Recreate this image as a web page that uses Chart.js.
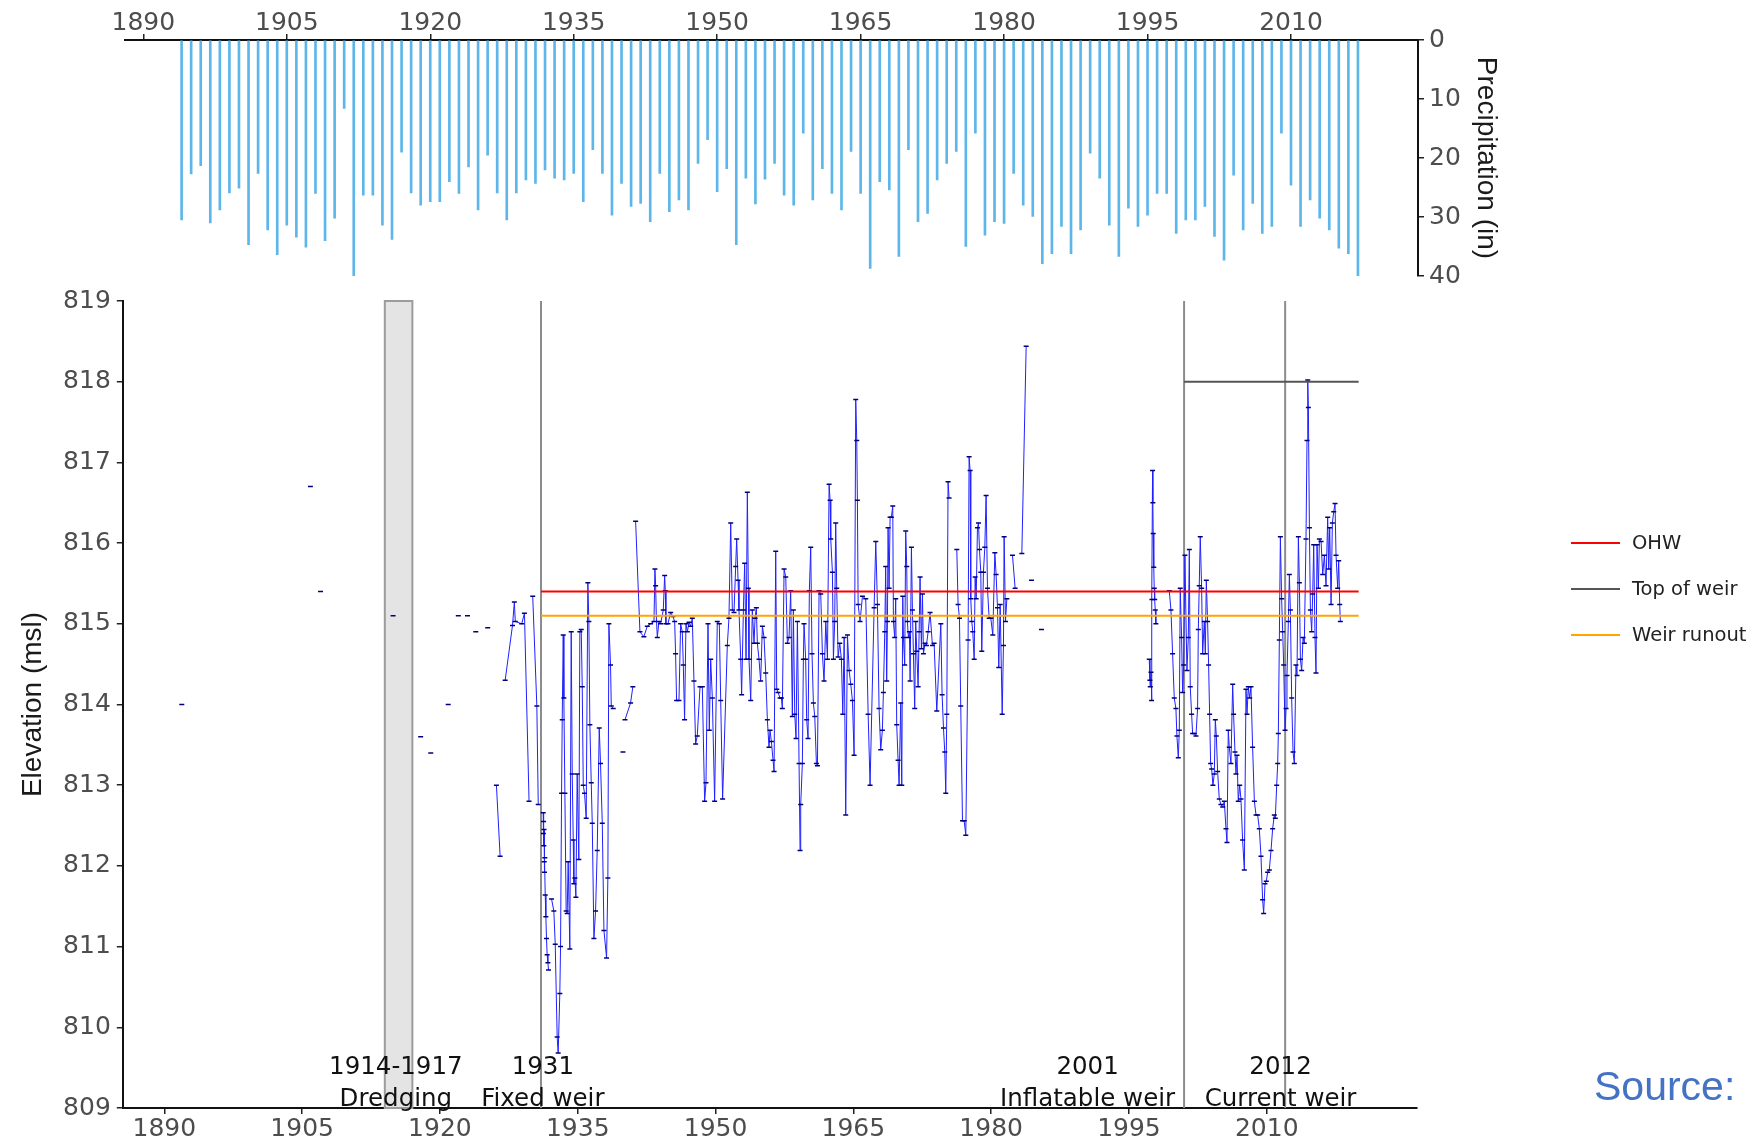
<!DOCTYPE html>
<html>
<head>
<meta charset="utf-8">
<script src="https://cdn.jsdelivr.net/npm/chart.js@4/dist/chart.umd.min.js"></script>
<style>
html,body{margin:0;padding:0;background:#fff;}
body{width:1760px;height:1140px;position:relative;overflow:hidden;font-family:"DejaVu Sans",sans-serif;}
#c1{position:absolute;left:0;top:0;}
#c2{position:absolute;left:0;top:280px;}
.legline{position:absolute;left:1571px;width:49px;height:2px;}
.legtext{position:absolute;left:1632px;font-family:"DejaVu Sans",sans-serif;font-size:19.5px;line-height:22px;color:#222;white-space:nowrap;}
#src{position:absolute;left:1594px;top:1062px;font-family:"Liberation Sans",Arial,sans-serif;font-size:41px;line-height:48px;color:#4472C4;}
</style>
</head>
<body>
<canvas id="c1" width="1760" height="300"></canvas>
<canvas id="c2" width="1760" height="860"></canvas>

<div class="legline" style="top:542px;background:#ff0000"></div>
<div class="legtext" style="top:532px">OHW</div>
<div class="legline" style="top:588px;background:#555555"></div>
<div class="legtext" style="top:578px">Top of weir</div>
<div class="legline" style="top:634px;background:#ffa500"></div>
<div class="legtext" style="top:624px">Weir runout</div>
<div id="src">Source:</div>

<script>
// ---------- Precipitation (top panel) ----------
const precipYears = [1894,1895,1896,1897,1898,1899,1900,1901,1902,1903,1904,1905,1906,1907,1908,1909,1910,1911,1912,1913,1914,1915,1916,1917,1918,1919,1920,1921,1922,1923,1924,1925,1926,1927,1928,1929,1930,1931,1932,1933,1934,1935,1936,1937,1938,1939,1940,1941,1942,1943,1944,1945,1946,1947,1948,1949,1950,1951,1952,1953,1954,1955,1956,1957,1958,1959,1960,1961,1962,1963,1964,1965,1966,1967,1968,1969,1970,1971,1972,1973,1974,1975,1976,1977,1978,1979,1980,1981,1982,1983,1984,1985,1986,1987,1988,1989,1990,1991,1992,1993,1994,1995,1996,1997,1998,1999,2000,2001,2002,2003,2004,2005,2006,2007,2008,2009,2010,2011,2012,2013,2014,2015,2016,2017];
const precipValues = [30.5,22.7,21.3,31.0,28.8,25.9,25.1,34.7,22.6,32.2,36.4,31.4,33.4,35.1,26.0,34.0,30.2,11.6,40.1,26.3,26.3,31.4,33.8,19.0,25.9,28.0,27.4,27.4,24.0,26.0,21.5,28.8,19.5,25.9,30.5,25.9,23.7,24.3,22.0,23.4,23.7,22.6,27.4,18.6,22.6,29.7,24.3,28.2,27.7,30.8,22.6,29.1,27.1,28.8,20.9,16.9,25.7,21.8,34.7,23.4,27.8,23.6,20.9,26.3,28.0,15.8,27.1,21.8,26.0,28.8,18.9,26.0,38.7,24.0,25.4,36.7,18.6,30.8,29.4,23.7,20.9,18.9,35.0,15.8,33.1,30.8,31.1,22.6,28.0,29.9,37.9,36.2,31.6,36.2,32.2,19.2,23.4,31.4,36.7,28.5,31.6,29.7,26.0,26.0,32.8,30.5,30.5,28.2,33.3,37.3,22.9,32.2,27.7,32.8,31.6,15.8,24.6,31.6,27.1,30.2,32.2,35.3,36.2,40.1];
const yearTicks = [1890,1905,1920,1935,1950,1965,1980,1995,2010];
const precipTicks = [0,10,20,30,40];
const elevTicks = [809,810,811,812,813,814,815,816,817,818,819];

// ---------- Reference levels ----------
const ohwLevel = 815.4, runoutLevel = 815.1, topOfWeirLevel = 818.0;
const levelStart = 1931, topOfWeirStart = 2001, levelEnd = 2020;
const dredgeYears = [1914, 1917];
const weirYears = [1931, 2001, 2012];

// ---------- Lake elevation readings [year, elevation]; null = gap ----------
const elevEarly = [[1891.9,814.0],null,[1905.9,816.7],null,[1907.0,815.4],null,[1914.9,815.1],null,[1917.9,813.6],null,[1919.0,813.4],null,[1920.9,814.0],null,[1922.0,815.1],null,[1923.0,815.1],null,[1923.9,814.9],null,[1925.2,814.95],null,[1926.15,813.0],[1926.55,812.12],null,[1927.1,814.3],[1927.9,814.98],[1928.1,815.27],[1928.2,815.03],[1928.9,815.0],[1929.2,815.13],[1929.7,812.8],null,[1930.1,815.34],[1930.55,813.98],[1930.7,812.76],null];

const elev1931_1941 = [[1931.24,812.66],[1931.26,812.4],[1931.28,812.55],[1931.31,812.25],[1931.33,812.45],[1931.35,812.05],[1931.38,811.92],[1931.42,812.1],[1931.46,811.64],[1931.53,811.37],[1931.6,811.10],[1931.67,810.90],[1931.75,810.8],[1931.82,810.71],null,
[1932.15,811.59],[1932.4,811.44],[1932.55,811.03],[1932.76,809.88],[1932.87,809.68],[1933.05,810.42],[1933.13,811.0],[1933.24,812.90],[1933.31,813.81],[1933.42,814.86],[1933.49,814.08],[1933.6,812.90],[1933.74,811.44],[1933.85,811.41],[1933.96,812.05],[1934.14,810.97],[1934.29,814.90],[1934.4,813.14],[1934.51,812.32],[1934.58,811.78],[1934.69,811.85],[1934.8,811.61],[1934.94,813.14],[1935.12,812.08],[1935.23,814.90],[1935.38,814.93],[1935.49,814.22],[1935.6,813.0],[1935.74,812.90],[1935.92,812.59],[1936.1,815.51],[1936.21,815.03],[1936.32,813.75],[1936.47,813.03],[1936.58,812.53],[1936.76,811.10],[1936.94,811.44],[1937.12,812.19],[1937.34,813.71],[1937.48,813.27],[1937.67,812.53],[1937.85,811.20],[1938.14,810.86],[1938.28,811.85],[1938.39,815.0],[1938.57,814.49],[1938.65,813.98],[1938.86,813.95],null,
[1939.92,813.41],null,
[1940.14,813.81],[1940.75,814.02],[1941.0,814.22],null];

const elev1941_1986 = [[1941.30,816.27],[1941.77,814.90],[1942.2,814.84],[1942.57,814.97],[1942.93,815.0],[1943.3,815.03],[1943.4,815.68],[1943.48,815.47],[1943.55,815.10],[1943.66,814.83],[1943.84,815.03],[1944.02,815.0],[1944.31,815.17],[1944.46,815.60],[1944.53,815.41],[1944.6,815.0],[1944.82,815.0],[1945.11,815.14],[1945.36,815.09],[1945.55,815.03],[1945.65,814.63],[1945.76,814.05],[1946.02,814.05],[1946.2,815.0],[1946.38,814.9],[1946.49,814.49],[1946.63,813.81],[1946.78,815.0],[1946.93,814.90],[1947.11,815.02],[1947.29,814.97],[1947.47,815.07],[1947.65,814.29],[1947.83,813.51],[1948.01,813.61],[1948.31,814.22],[1948.56,814.22],[1948.81,812.80],[1948.96,813.03],[1949.18,815.0],[1949.32,813.68],[1949.47,814.56],[1949.65,814.08],[1949.9,812.80],[1950.19,815.03],[1950.41,815.0],[1950.56,814.05],[1950.77,812.83],[1951.28,814.73],[1951.46,815.07],[1951.65,816.25],[1951.83,815.17],[1952.01,815.14],[1952.19,815.71],[1952.30,816.05],[1952.45,815.54],[1952.55,815.17],[1952.74,814.56],[1952.84,814.12],[1953.03,815.17],[1953.17,815.75],[1953.32,814.56],[1953.46,816.63],[1953.57,815.44],[1953.64,814.56],[1953.83,814.05],[1954.0,815.17],[1954.19,814.76],[1954.3,815.07],[1954.44,815.20],[1954.55,814.76],[1954.73,814.56],[1954.91,814.29],[1955.1,814.97],[1955.28,814.83],[1955.46,814.39],[1955.64,813.81],[1955.82,813.47],[1955.93,813.68],[1956.08,813.54],[1956.26,813.31],[1956.37,813.17],[1956.55,815.90],[1956.66,814.19],[1956.8,814.15],[1957.02,814.08],[1957.17,814.08],[1957.27,813.95],[1957.46,815.68],[1957.64,815.58],[1957.82,814.76],[1958.0,814.83],[1958.18,815.41],[1958.36,813.85],[1958.47,815.17],[1958.62,813.88],[1958.76,813.58],[1958.91,815.03],[1959.09,813.27],[1959.2,812.19],[1959.27,812.76],[1959.45,813.27],[1959.56,814.56],[1959.63,815.0],[1959.81,814.56],[1959.92,813.81],[1960.07,813.58],[1960.21,815.41],[1960.36,815.95],[1960.5,814.63],[1960.65,814.02],[1960.8,813.85],[1960.98,813.27],[1961.09,813.24],[1961.27,815.41],[1961.45,815.37],[1961.63,814.63],[1961.81,814.29],[1962.0,815.03],[1962.18,814.56],[1962.36,816.73],[1962.47,816.53],[1962.54,816.05],[1962.72,815.64],[1962.83,814.56],[1962.97,815.03],[1963.08,816.25],[1963.19,815.44],[1963.34,814.59],[1963.52,814.76],[1963.70,814.56],[1963.85,813.88],[1964.0,814.83],[1964.17,812.63],[1964.36,814.86],[1964.54,814.42],[1964.72,814.25],[1964.9,814.05],[1965.08,813.37],[1965.26,817.78],[1965.37,817.27],[1965.44,816.53],[1965.52,815.24],[1965.73,815.03],[1965.99,815.34],[1966.35,815.31],[1966.61,813.88],[1966.82,813.0],[1967.26,815.20],[1967.44,816.02],[1967.62,815.24],[1967.8,813.95],[1967.98,813.44],[1968.16,813.68],[1968.27,814.15],[1968.42,814.90],[1968.52,815.71],[1968.63,814.29],[1968.71,815.03],[1968.78,816.19],[1968.89,815.44],[1969.0,816.32],[1969.14,816.32],[1969.29,816.46],[1969.36,815.03],[1969.5,814.83],[1969.61,815.31],[1969.72,813.75],[1969.87,813.31],[1969.98,813.0],[1970.16,814.02],[1970.27,813.0],[1970.38,815.34],[1970.45,814.83],[1970.59,814.49],[1970.7,816.15],[1970.81,815.71],[1970.88,815.03],[1970.99,814.83],[1971.1,814.9],[1971.18,814.29],[1971.32,815.95],[1971.43,815.17],[1971.54,814.63],[1971.68,813.95],[1971.79,815.03],[1971.9,814.66],[1972.05,814.22],[1972.16,814.9],[1972.26,815.58],[1972.41,814.69],[1972.52,815.37],[1972.63,814.63],[1972.81,814.76],[1972.95,814.73],[1973.14,814.9],[1973.35,815.14],[1973.61,814.73],[1973.79,814.76],[1974.08,813.92],[1974.52,815.0],[1974.66,814.12],[1974.81,813.71],[1974.95,813.41],[1975.06,812.90],[1975.17,813.88],[1975.31,816.76],[1975.42,816.56],null,
[1976.26,815.92],[1976.4,815.24],[1976.55,815.07],[1976.69,813.98],[1976.88,812.56],[1977.06,812.56],[1977.24,812.38],[1977.49,814.80],[1977.6,817.07],[1977.71,816.90],[1977.78,815.31],[1977.89,815.03],[1978.0,814.90],[1978.15,814.56],[1978.26,815.58],[1978.37,815.31],[1978.51,816.19],[1978.62,816.25],[1978.73,815.92],[1978.87,815.64],[1978.98,814.66],[1979.16,815.64],[1979.31,815.95],[1979.45,816.59],[1979.6,815.44],[1979.78,815.07],[1979.96,815.07],[1980.18,814.86],[1980.4,815.88],[1980.54,815.61],[1980.69,815.20],[1980.83,814.46],[1980.98,815.24],[1981.2,813.88],[1981.34,814.73],[1981.41,816.08],[1981.56,815.03],[1981.71,815.31],null,
[1982.32,815.85],[1982.61,815.44],null,[1983.34,815.87],[1983.81,818.44],null,[1984.39,815.54],null,[1985.48,814.93],null];

const elev1997_2018 = [[1997.21,814.56],[1997.28,814.3],[1997.32,814.22],[1997.4,814.4],[1997.46,814.05],[1997.5,815.3],[1997.57,816.90],[1997.6,816.5],[1997.64,816.12],[1997.7,815.7],[1997.75,815.44],[1997.8,815.3],[1997.86,815.17],[1997.93,815.0],null,
[1999.39,815.41],[1999.57,815.17],[1999.75,814.63],[1999.93,814.08],[2000.11,813.95],[2000.22,813.61],[2000.37,813.34],[2000.48,813.68],[2000.58,815.44],[2000.73,814.83],[2000.84,814.15],[2000.95,814.49],[2001.09,815.85],[2001.2,815.10],[2001.31,814.42],[2001.46,814.83],[2001.57,815.92],[2001.67,814.22],[2001.82,813.88],[2001.93,813.64],[2002.11,813.64],[2002.29,813.61],[2002.47,813.95],[2002.55,814.93],[2002.65,815.47],[2002.76,816.08],[2002.91,815.44],[2003.02,814.63],[2003.2,815.03],[2003.31,814.63],[2003.42,815.54],[2003.56,815.03],[2003.67,814.49],[2003.78,813.88],[2003.89,813.27],[2004.0,813.20],[2004.14,813.0],[2004.29,813.14],[2004.4,813.81],[2004.51,813.61],[2004.65,813.17],[2004.83,812.83],[2005.01,812.76],[2005.2,812.73],[2005.38,812.80],[2005.56,812.46],[2005.67,812.29],[2005.81,813.68],[2005.92,813.47],[2006.1,813.27],[2006.29,814.25],[2006.39,813.88],[2006.54,813.41],[2006.65,813.14],[2006.76,813.37],[2006.9,812.80],[2007.05,813.0],[2007.19,812.83],[2007.37,812.32],[2007.56,811.95],[2007.74,814.19],[2007.85,813.88],[2007.99,814.22],[2008.14,814.08],[2008.28,814.22],[2008.46,813.47],[2008.65,812.80],[2008.83,812.63],[2009.01,812.63],[2009.19,812.46],[2009.37,812.12],[2009.55,811.58],[2009.66,811.41],[2009.81,811.78],[2009.95,811.81],[2010.1,811.92],[2010.28,811.95],[2010.46,812.19],[2010.64,812.46],[2010.82,812.63],[2010.93,812.59],[2011.08,813.0],[2011.19,813.27],[2011.26,813.64],[2011.37,814.80],[2011.48,816.08],[2011.62,815.31],[2011.73,814.90],[2011.84,814.49],[2011.99,813.68],[2012.1,813.95],[2012.2,814.36],[2012.35,815.03],[2012.46,815.61],[2012.57,815.17],[2012.71,814.08],[2012.86,813.41],[2013.0,813.27],[2013.18,814.49],[2013.29,814.36],[2013.44,816.08],[2013.55,815.51],[2013.66,814.56],[2013.8,814.42],[2013.95,814.83],[2014.09,814.76],[2014.27,816.05],[2014.38,817.27],[2014.46,818.02],[2014.53,817.68],[2014.64,816.19],[2014.75,815.17],[2014.89,814.90],[2015.0,815.37],[2015.11,815.98],[2015.25,814.83],[2015.36,814.39],[2015.47,815.98],[2015.62,815.44],[2015.73,816.05],[2015.91,816.02],[2016.09,815.61],[2016.27,815.85],[2016.45,815.47],[2016.63,816.32],[2016.74,815.68],[2016.85,816.19],[2017.0,815.24],[2017.14,816.25],[2017.29,816.39],[2017.43,816.49],[2017.54,815.85],[2017.72,815.44],[2017.83,815.78],[2017.94,815.24],[2018.01,815.03]];

// annotation labels (text from the figure)
const annoLabels = [
  {year: 1915.2, top: '1914-1917', bottom: 'Dredging', align: 'center'},
  {year: 1931.2, top: '1931', bottom: 'Fixed weir', align: 'center'},
  {year: 2001, top: '2001', bottom: 'Inflatable weir', align: 'right'},
  {year: 2011.5, top: '2012', bottom: 'Current weir', align: 'center'}
];

// ---------- helpers ----------
function toPoints(arr) {
  const out = [];
  let lastX = 1890;
  arr.forEach(p => {
    if (p) { out.push({x: p[0], y: p[1]}); lastX = p[0]; }
    else { out.push({x: lastX + 0.001, y: null}); }
  });
  return out;
}
const elevPoints = toPoints([...elevEarly, ...elev1931_1941, ...elev1941_1986, ...elev1997_2018]);

const tickFont = {family: 'DejaVu Sans', size: 25};
const tickColor = '#4d4d4d';
const titleFont = {family: 'Liberation Sans', size: 28};
const plainLabel = v => String(v);

// ---------- top chart ----------
new Chart(document.getElementById('c1'), {
  type: 'bar',
  data: {
    datasets: [{
      data: precipYears.map((x, i) => ({x: x, y: precipValues[i]})),
      backgroundColor: '#5DB6EA',
      borderWidth: 0,
      barThickness: 2
    }]
  },
  options: {
    responsive: false,
    animation: false,
    layout: {padding: {left: 124.5, right: 253, top: 0, bottom: 24}},
    plugins: {legend: {display: false}, tooltip: {enabled: false}},
    scales: {
      x: {
        type: 'linear', position: 'top', min: 1888.03, max: 2023.28, offset: false,
        afterBuildTicks: s => { s.ticks = yearTicks.map(v => ({value: v})); },
        afterFit: s => { s.height = 40; },
        grid: {display: true, drawOnChartArea: false, tickLength: 6, color: '#222', lineWidth: 1.5, offset: false},
        border: {display: true, color: '#111', width: 2},
        ticks: {font: tickFont, color: tickColor, padding: -4, maxRotation: 0, autoSkip: false, callback: plainLabel}
      },
      y: {
        type: 'linear', position: 'right', reverse: true, min: 0, max: 40,
        afterBuildTicks: s => { s.ticks = precipTicks.map(v => ({value: v})); },
        afterFit: s => { s.width = 89; },
        grid: {display: true, drawOnChartArea: false, tickLength: 6, color: '#222', lineWidth: 1.5},
        border: {display: true, color: '#111', width: 2},
        ticks: {font: tickFont, color: tickColor, padding: 5, callback: plainLabel},
        title: {display: true, text: 'Precipitation (in)', font: titleFont, color: '#1a1a1a', padding: {top: 4, bottom: 4}}
      }
    }
  }
});

// ---------- annotation plugin (bottom chart) ----------
const annoPlugin = {
  id: 'weirAnno',
  beforeDatasetsDraw(chart) {
    const {ctx, chartArea: {top, bottom}, scales: {x}} = chart;
    ctx.save();
    const x1 = x.getPixelForValue(dredgeYears[0]);
    const x2 = x.getPixelForValue(dredgeYears[1]);
    ctx.fillStyle = '#e4e4e4';
    ctx.fillRect(x1, top, x2 - x1, bottom - top);
    ctx.strokeStyle = '#9c9c9c';
    ctx.lineWidth = 2;
    ctx.strokeRect(x1, top, x2 - x1, bottom - top);
    weirYears.forEach(v => {
      const px = x.getPixelForValue(v);
      ctx.beginPath();
      ctx.moveTo(px, top);
      ctx.lineTo(px, bottom);
      ctx.strokeStyle = '#8c8c8c';
      ctx.lineWidth = 2;
      ctx.stroke();
    });
    ctx.restore();
  },
  afterDatasetsDraw(chart) {
    const {ctx, chartArea: {bottom}, scales: {x}} = chart;
    ctx.save();
    ctx.font = '24.5px "DejaVu Sans"';
    ctx.fillStyle = '#111';
    ctx.textBaseline = 'middle';
    annoLabels.forEach(a => {
      let px = x.getPixelForValue(a.year);
      if (a.align === 'right') {
        const rightX = px - 9;
        const w = ctx.measureText(a.bottom).width;
        ctx.textAlign = 'right';
        ctx.fillText(a.bottom, rightX, bottom - 8);
        ctx.textAlign = 'center';
        ctx.fillText(a.top, rightX - w / 2, bottom - 40);
      } else {
        ctx.textAlign = 'center';
        ctx.fillText(a.top, px, bottom - 40);
        ctx.fillText(a.bottom, px, bottom - 8);
      }
    });
    ctx.restore();
  }
};

// ---------- bottom chart ----------
new Chart(document.getElementById('c2'), {
  type: 'line',
  data: {
    datasets: [
      {label: 'OHW', data: [{x: levelStart, y: ohwLevel}, {x: levelEnd, y: ohwLevel}], borderColor: '#ff0000', borderWidth: 2, pointRadius: 0},
      {label: 'Top of weir', data: [{x: topOfWeirStart, y: topOfWeirLevel}, {x: levelEnd, y: topOfWeirLevel}], borderColor: '#555555', borderWidth: 2, pointRadius: 0},
      {label: 'Weir runout', data: [{x: levelStart, y: runoutLevel}, {x: levelEnd, y: runoutLevel}], borderColor: '#ffa500', borderWidth: 2, pointRadius: 0},
      {label: 'Elevation', data: elevPoints, borderColor: '#2020ff', borderWidth: 1, spanGaps: false,
       pointStyle: 'line', pointRadius: 2.5, pointBorderColor: '#00007a', pointBorderWidth: 1.5, pointBackgroundColor: '#00007a'}
    ]
  },
  options: {
    responsive: false,
    animation: false,
    layout: {padding: {left: 12.8, right: 343.3, top: 19.5, bottom: 0}},
    plugins: {legend: {display: false}, tooltip: {enabled: false}},
    scales: {
      x: {
        type: 'linear', position: 'bottom', min: 1885.48, max: 2026.32,
        afterBuildTicks: s => { s.ticks = yearTicks.map(v => ({value: v})); },
        afterFit: s => { s.height = 32; },
        grid: {display: true, drawOnChartArea: false, tickLength: 6, color: '#222', lineWidth: 1.5},
        border: {display: true, color: '#111', width: 2},
        ticks: {font: tickFont, color: tickColor, padding: 0, maxRotation: 0, autoSkip: false, callback: plainLabel}
      },
      y: {
        type: 'linear', position: 'left', min: 809, max: 819,
        afterBuildTicks: s => { s.ticks = elevTicks.map(v => ({value: v})); },
        afterFit: s => { s.width = 110; },
        grid: {display: true, drawOnChartArea: false, tickLength: 6, color: '#222', lineWidth: 1.5},
        border: {display: true, color: '#111', width: 2},
        ticks: {font: tickFont, color: tickColor, padding: 6, callback: plainLabel},
        title: {display: true, text: 'Elevation (msl)', font: titleFont, color: '#1a1a1a', padding: {top: 4, bottom: 4}}
      }
    }
  },
  plugins: [annoPlugin]
});
</script>
</body>
</html>
